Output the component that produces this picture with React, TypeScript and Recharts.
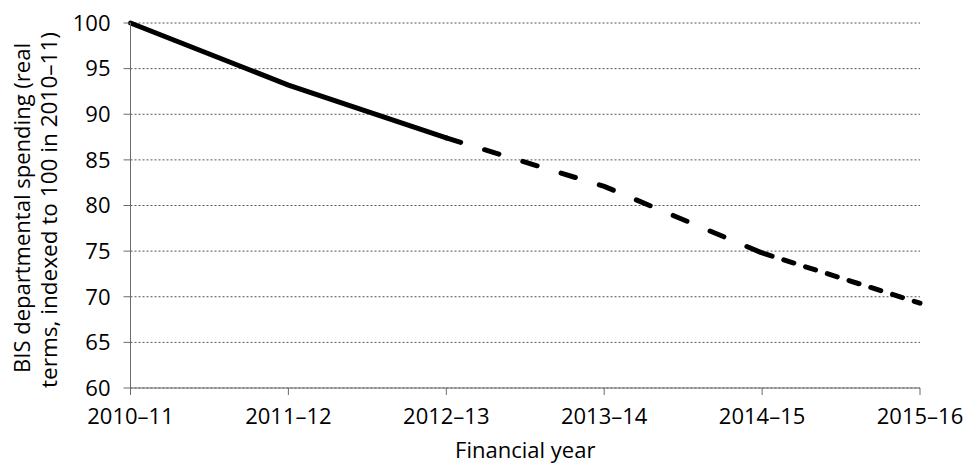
import React from "react";
import { LineChart, Line, XAxis, YAxis, CartesianGrid, Label } from "recharts";

const years = ["2010–11", "2011–12", "2012–13", "2013–14", "2014–15", "2015–16"];
const outturn = [100, 93.2, 87.4, null, null, null];
const plansLong = [null, null, 87.4, 82.1, 74.8, null];
const plansShort = [null, null, null, null, 74.8, 69.3];
const yTicks = [60, 65, 70, 75, 80, 85, 90, 95, 100];

const data = years.map((y, i) => ({
  year: y,
  outturn: outturn[i],
  plansLong: plansLong[i],
  plansShort: plansShort[i],
}));

const FONT = "'Open Sans', sans-serif";
const W = 969;
const H = 464;
const M = { top: 23, right: 49, bottom: 0, left: 0 };
const YW = 130.5;
const XH = 76;
const PLOT_TOP = M.top;
const PLOT_BOTTOM = H - M.bottom - XH;
const PLOT_LEFT = M.left + YW;
const PLOT_RIGHT = W - M.right;

const YTitle = () => {
  const cy = (PLOT_TOP + PLOT_BOTTOM) / 2;
  const c1 = cy + 2.5;
  const c2 = cy + 4.5;
  return (
    <g fontFamily={FONT} fontSize={22} fill="#000">
      <text
        x={29.5}
        y={c1}
        textAnchor="middle"
        textLength={330}
        lengthAdjust="spacingAndGlyphs"
        transform={`rotate(-90, 29.5, ${c1})`}
      >
        BIS departmental spending (real
      </text>
      <text
        x={56.5}
        y={c2}
        textAnchor="middle"
        textLength={356}
        lengthAdjust="spacingAndGlyphs"
        transform={`rotate(-90, 56.5, ${c2})`}
      >
        terms, indexed to 100 in 2010–11)
      </text>
    </g>
  );
};

const XTitle = () => (
  <text
    x={(PLOT_LEFT + PLOT_RIGHT) / 2}
    y={457.5}
    textAnchor="middle"
    fontFamily={FONT}
    fontSize={22}
    fill="#000"
  >
    Financial year
  </text>
);

export default function App() {
  return (
    <div style={{ position: "absolute", left: 0, top: 0, width: W, height: H, background: "#fff" }}>
      <LineChart width={W} height={H} data={data} margin={M}>
        <CartesianGrid vertical={false} stroke="#555" strokeDasharray="2 2" />
        <XAxis
          dataKey="year"
          scale="point"
          padding={{ left: 0, right: 0 }}
          height={XH}
          tickSize={7}
          tickMargin={13}
          stroke="#6b6b6b"
          tick={{ fill: "#000", fontSize: 22, fontFamily: FONT }}
          interval={0}
        >
          <Label content={() => <XTitle />} />
        </XAxis>
        <YAxis
          type="number"
          domain={[60, 100]}
          ticks={yTicks}
          width={YW}
          tickSize={7}
          tickMargin={13}
          stroke="#6b6b6b"
          tick={{ fill: "#000", fontSize: 22, fontFamily: FONT }}
          interval={0}
        >
          <Label content={() => <YTitle />} />
        </YAxis>
        <Line
          dataKey="outturn"
          stroke="#000"
          strokeWidth={5}
          strokeLinecap="round"
          dot={false}
          activeDot={false}
          isAnimationActive={false}
        />
        <Line
          dataKey="plansLong"
          stroke="#000"
          strokeWidth={5}
          strokeLinecap="round"
          strokeDasharray="15 25"
          dot={false}
          activeDot={false}
          isAnimationActive={false}
        />
        <Line
          dataKey="plansShort"
          stroke="#000"
          strokeWidth={5}
          strokeLinecap="round"
          strokeDasharray="10.5 12.3"
          dot={false}
          activeDot={false}
          isAnimationActive={false}
        />
      </LineChart>
    </div>
  );
}
